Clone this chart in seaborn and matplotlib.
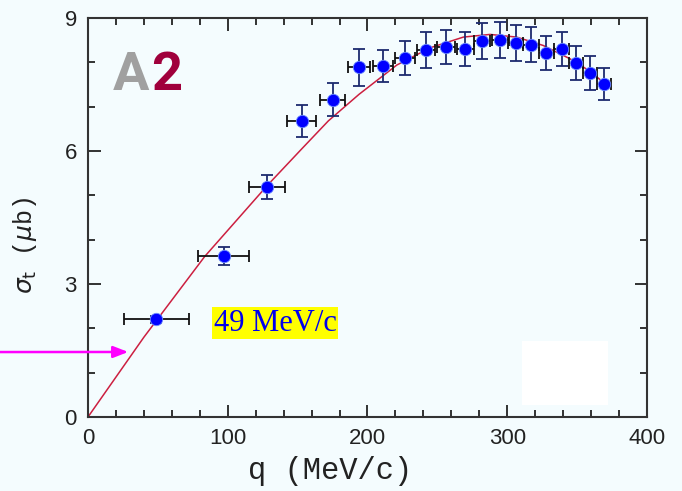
import numpy as np
import pandas as pd
import matplotlib
matplotlib.use("Agg")
import matplotlib.pyplot as plt
from matplotlib.ticker import MultipleLocator
from matplotlib.patches import Rectangle
import seaborn as sns

# ---- data ----
q = [49, 97, 128, 153, 175, 194, 211, 227, 242, 256, 270, 282, 295, 306, 317, 328, 339, 349, 359, 369]
sigma = [2.20, 3.63, 5.19, 6.67, 7.16, 7.89, 7.91, 8.10, 8.28, 8.35, 8.30, 8.48, 8.51, 8.44, 8.40, 8.21, 8.30, 7.99, 7.76, 7.51]
sigma_err = [0.08, 0.20, 0.28, 0.36, 0.38, 0.42, 0.36, 0.39, 0.40, 0.39, 0.39, 0.40, 0.41, 0.40, 0.40, 0.39, 0.39, 0.38, 0.38, 0.36]
q_err = [23.5, 18, 12.8, 10.5, 9, 8, 7, 7, 6.5, 6.5, 6, 6, 6, 5.5, 5.5, 5.5, 5.5, 5, 5, 5]

q_curve = [0, 40, 83.5, 128.8, 153, 172, 194, 221, 245, 268.6, 287.7, 306.7, 325.8, 344.9, 359.2, 368.7]
sigma_curve = [0, 1.80, 3.62, 5.24, 6.05, 6.68, 7.28, 7.94, 8.33, 8.57, 8.63, 8.57, 8.38, 8.08, 7.80, 7.55]

x_ticks = [0, 100, 200, 300, 400]
y_ticks = [0, 3, 6, 9]
annotation_text = "49 MeV/c"

df = pd.DataFrame({"q": q, "sigma": sigma, "qerr": q_err, "serr": sigma_err})
curve = pd.DataFrame({"q": q_curve, "sigma": sigma_curve})

sns.set_style("ticks")
bg = "#f4fcfe"
fig = plt.figure(figsize=(6.82, 4.91), dpi=100, facecolor=bg)
ax = fig.add_axes([0.129, 0.1507, 0.8197, 0.8126])
ax.set_facecolor(bg)

# white patch from the reference
ax.add_patch(Rectangle((0.776, 0.03), 0.154, 0.16, transform=ax.transAxes,
                       facecolor="white", edgecolor="none", zorder=0.5))

sns.lineplot(data=curve, x="q", y="sigma", ax=ax, color="#cc1f40", lw=1.1,
             zorder=2, sort=False)

ax.errorbar(df["q"], df["sigma"], xerr=df["qerr"], fmt="none", ecolor="#111111",
            elinewidth=1.3, capsize=4, capthick=1.3, zorder=3)
ax.errorbar(df["q"], df["sigma"], yerr=df["serr"], fmt="none", ecolor="#1c2a6e",
            elinewidth=1.3, capsize=4, capthick=1.3, zorder=3)
sns.scatterplot(data=df, x="q", y="sigma", ax=ax, color="#0000ff", s=80,
                edgecolor="#7090ff", linewidth=0.6, zorder=4, clip_on=False)

ax.set_xlim(0, 400)
ax.set_ylim(0, 9)
ax.set_xticks(x_ticks)
ax.set_yticks(y_ticks)
ax.xaxis.set_minor_locator(MultipleLocator(20))
ax.yaxis.set_minor_locator(MultipleLocator(1))
ax.tick_params(which="both", direction="in", top=True, right=True,
               colors="#222222", labelsize=16, width=1.3)
ax.tick_params(which="major", length=9, pad=8)
ax.tick_params(which="minor", length=5)
for lab in ax.get_xticklabels() + ax.get_yticklabels():
    lab.set_fontfamily("Liberation Sans")
    lab.set_color("#222222")
for s in ax.spines.values():
    s.set_linewidth(1.5)
    s.set_color("#333333")

ax.set_xlabel("q (MeV/c)", fontfamily="Liberation Mono", fontsize=22,
              color="#222222")
ax.xaxis.set_label_coords(0.433, -0.097)
ax.set_ylabel(r"$\sigma_{\rm t}$ ($\mu$b)", fontfamily="Liberation Mono", fontsize=18,
              color="#222222")
ax.yaxis.set_label_coords(-0.088, 0.43)

# A2 logo
ax.text(0.045, 0.82, "A", transform=ax.transAxes, fontsize=39, color="#a0a0a0",
        fontweight="bold", fontfamily="Roboto", va="baseline", ha="left")
ax.text(0.113, 0.82, "2", transform=ax.transAxes, fontsize=39, color="#a0003c",
        fontweight="bold", fontfamily="Roboto", va="baseline", ha="left")

# label with yellow box
ax.text(0.225, 0.235, annotation_text, transform=ax.transAxes, fontsize=22,
        fontfamily="Liberation Serif", color="#0000ee", va="center", ha="left",
        bbox=dict(boxstyle="square,pad=0.05", facecolor="#ffff00", edgecolor="none"))

# magenta arrow from figure edge
ax.annotate("", xy=(0.072, 0.163), xycoords="axes fraction",
            xytext=(0.0, 0.283), textcoords="figure fraction",
            arrowprops=dict(arrowstyle="-|>,head_length=0.9,head_width=0.35",
                            color="#ff00ff", lw=1.8, shrinkA=0, shrinkB=0),
            annotation_clip=False)

fig.savefig("out.png", dpi=100, facecolor=bg)
